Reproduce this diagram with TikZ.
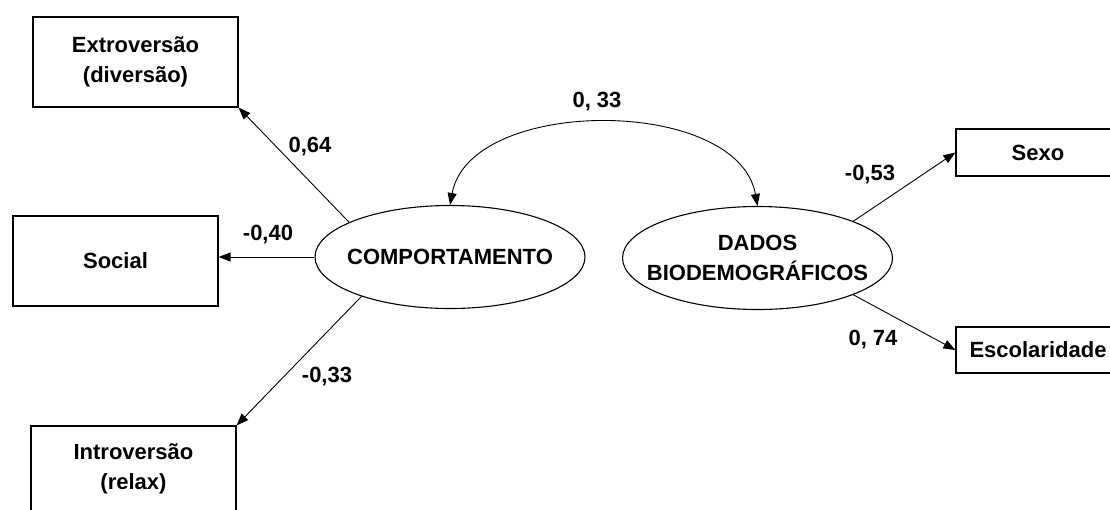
\documentclass[tikz,border=0pt]{standalone}
\usepackage{fontspec}
\setmainfont{Liberation Sans}
\usetikzlibrary{arrows.meta,shapes.geometric}
\begin{document}
\begin{tikzpicture}[x=1pt,y=-1pt,
  font=\fontsize{22}{30}\selectfont\bfseries,
  box/.style={draw, line width=1.2pt, rectangle, inner sep=0pt, align=center, minimum width=205pt},
  latent/.style={draw, line width=1.1pt, ellipse, minimum width=270pt, minimum height=103pt, inner xsep=-30pt, inner ysep=0pt, align=center},
  effect/.style={line width=0.9pt, -{Triangle[length=12pt,width=9pt]}},
  covar/.style={line width=0.9pt, {Triangle[length=12pt,width=9pt]}-{Triangle[length=12pt,width=9pt]}},
  coef/.style={inner sep=0pt}]
\clip (0,0) rectangle (1110,509);
\fill[white] (0,0) rectangle (1110,509);

% observed variables
\node[box, minimum height=90pt] (extro) at (135.5,62) {Extroversão\\(diversão)};
\node[box, minimum height=90pt] (social) at (115.5,261) {Social};
\node[box, minimum height=86pt] (intro) at (133.5,469) {Introversão\\(relax)};
\node[box, minimum width=164pt, minimum height=47pt] (sexo) at (1038,152.5) {Sexo};
\node[box, minimum width=164pt, minimum height=46pt] (escol) at (1038,350) {Escolaridade};

% latent variables
\node[latent] (comp) at (450,257) {COMPORTAMENTO};
\node[latent] (dados) at (757.5,258) {DADOS\\BIODEMOGRÁFICOS};

% paths
\draw[effect] (comp.161) -- (extro.south east);
\draw[effect] (comp.west) -- (comp.west -| social.east);
\draw[effect] (comp.204) -- (intro.north east);
\draw[effect] (dados.21) -- (sexo.west);
\draw[effect] (dados.-21) -- (escol.west);
\draw[covar] (comp.north) .. controls (470,96) and (738,96) .. (dados.north);

% coefficients
\node[coef] (c1) at (597,102) {0, 33};
\node[coef] (c2) at (310,147) {0,64};
\node[coef] (c3) at (268,235) {-0,40};
\node[coef] (c4) at (327,377) {-0,33};
\node[coef] (c5) at (870,175) {-0,53};
\node[coef] (c6) at (873,340) {0, 74};
\end{tikzpicture}
\end{document}
